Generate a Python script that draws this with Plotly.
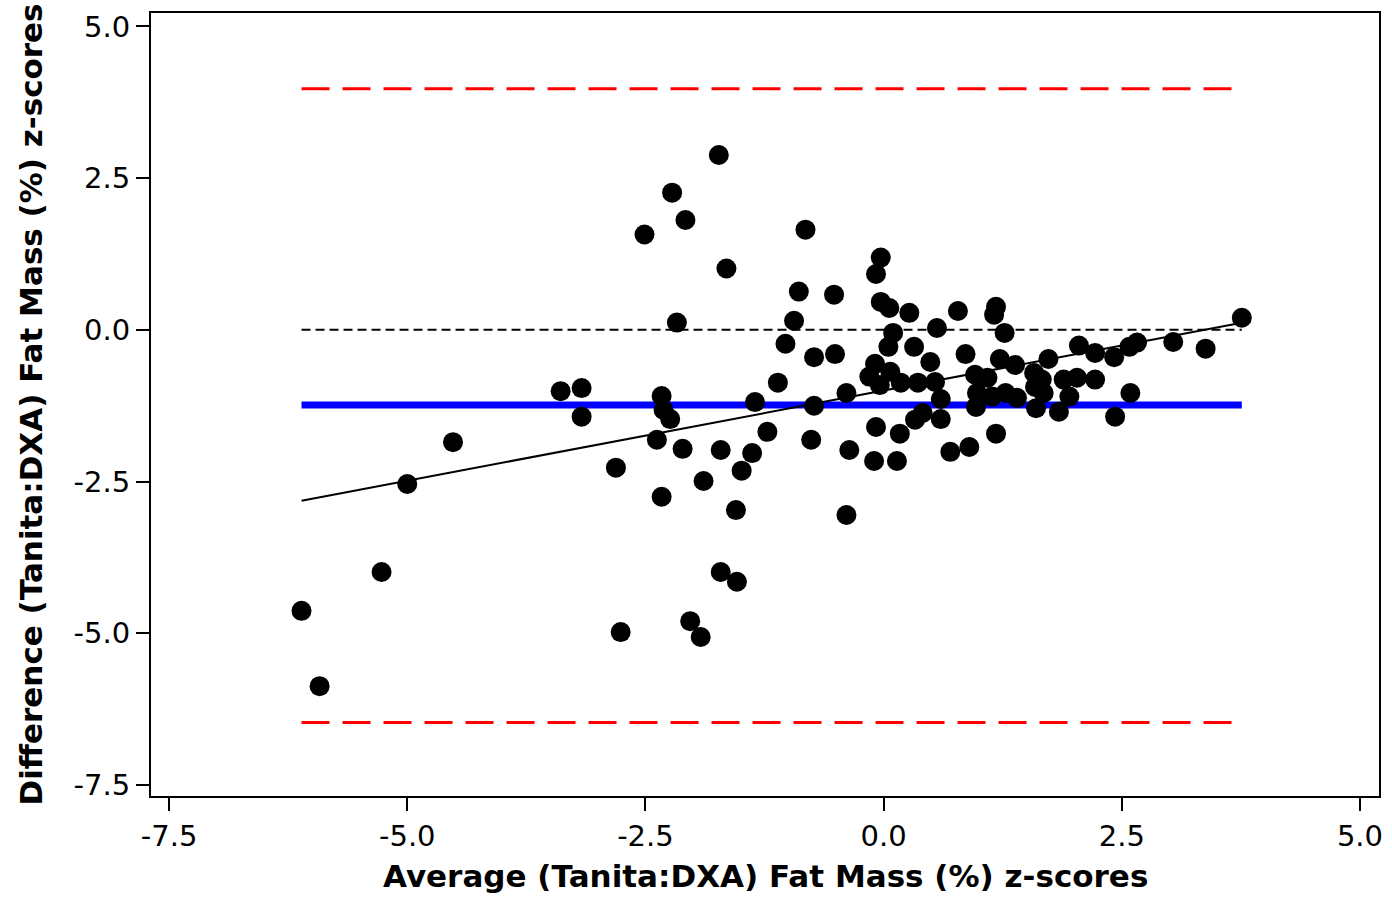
import plotly.graph_objects as go

# Bland-Altman data: mean of the two methods (x) vs. difference (y), z-scores
avg_z = [
    -6.11, -5.92, -5.27, -5.00, -4.52, -3.39, -3.17, -3.17, -2.81, -2.76,
    -2.51, -2.38, -2.33, -2.33, -2.31, -2.24, -2.22, -2.17, -2.08, -2.11,
    -2.03, -1.92, -1.89, -1.73, -1.71, -1.71, -1.65, -1.55, -1.54, -1.49,
    -1.38, -1.35, -1.22, -1.11, -1.03, -0.94, -0.89, -0.82, -0.76, -0.73,
    -0.73, -0.52, -0.51, -0.39, -0.39, -0.36,
    -0.03, -0.08, -0.03, 0.06, 0.27, 0.78, 0.56, 0.10, 0.05, 0.32,
    0.49, -0.09, 0.07, -0.15, -0.04, 0.18, 0.36, 0.54, 0.60, 0.41,
    0.33, 0.60, -0.08, 0.17, -0.10, 0.14, 0.70, 0.90, 0.86, 0.96,
    1.09, 0.98, 1.14, 0.97,
    1.18, 1.16, 1.27, 1.22, 1.38, 1.73, 2.05, 2.22, 2.42, 2.58,
    2.66, 3.04, 3.38, 3.76, 1.28, 1.40, 1.58, 1.66, 1.59, 1.68,
    1.60, 1.84, 1.89, 2.03, 2.22, 1.95, 2.59, 2.43, 1.18,
]
diff_z = [
    -4.63, -5.87, -3.99, -2.54, -1.85, -1.01, -0.96, -1.43, -2.27, -4.98,
    1.57, -1.81, -1.09, -2.75, -1.32, -1.47, 2.26, 0.12, 1.81, -1.96,
    -4.80, -5.06, -2.49, 2.88, -1.98, -3.99, 1.01, -2.97, -4.15, -2.32,
    -2.03, -1.19, -1.68, -0.87, -0.23, 0.15, 0.63, 1.65, -1.81, -1.25,
    -0.45, 0.58, -0.40, -1.04, -3.05, -1.98,
    1.19, 0.92, 0.46, 0.36, 0.28, 0.31, 0.03, -0.05, -0.28, -0.28,
    -0.53, -0.56, -0.69, -0.77, -0.91, -0.87, -0.87, -0.86, -1.14, -1.37,
    -1.48, -1.47, -1.60, -1.71, -2.16, -2.16, -2.01, -1.93, -0.40, -0.74,
    -0.79, -1.04, -1.10, -1.27,
    0.38, 0.25, -0.05, -0.48, -0.58, -0.48, -0.26, -0.38, -0.45, -0.28,
    -0.21, -0.20, -0.31, 0.20, -1.04, -1.12, -0.71, -0.82, -0.94, -1.04,
    -1.29, -1.35, -0.82, -0.79, -0.82, -1.10, -1.04, -1.43, -1.71,
]

# Summary statistics
mean_diff = -1.24
upper_loa = 3.97
lower_loa = -6.47
reg_intercept = -1.00
reg_slope = 0.297

tick_vals = [-7.5, -5.0, -2.5, 0.0, 2.5, 5.0]
tick_text = ["-7.5", "-5.0", "-2.5", "0.0", "2.5", "5.0"]

x_title = "Average (Tanita:DXA) Fat Mass (%) z-scores"
y_title = "Difference (Tanita:DXA) Fat Mass (%) z-scores"

x_min, x_max = min(avg_z), max(avg_z)

fig = go.Figure()

# Limits of agreement
for level in (upper_loa, lower_loa):
    fig.add_trace(go.Scatter(
        x=[x_min, x_max], y=[level, level], mode="lines",
        line=dict(color="#ff0000", width=3, dash="28px,13px"),
        hoverinfo="skip", showlegend=False,
    ))

# Zero reference
fig.add_trace(go.Scatter(
    x=[x_min, x_max], y=[0, 0], mode="lines",
    line=dict(color="black", width=2, dash="9px,5px"),
    hoverinfo="skip", showlegend=False,
))

# Mean difference (bias)
fig.add_trace(go.Scatter(
    x=[x_min, x_max], y=[mean_diff, mean_diff], mode="lines",
    line=dict(color="#0000ff", width=7),
    hoverinfo="skip", showlegend=False,
))

# Regression of difference on average
fig.add_trace(go.Scatter(
    x=[x_min, x_max],
    y=[reg_intercept + reg_slope * x_min, reg_intercept + reg_slope * x_max],
    mode="lines", line=dict(color="black", width=2),
    hoverinfo="skip", showlegend=False,
))

# Individual subjects
fig.add_trace(go.Scatter(
    x=avg_z, y=diff_z, mode="markers",
    marker=dict(color="black", size=20, line=dict(width=0)),
    showlegend=False,
))

axis_common = dict(
    showgrid=False, zeroline=False,
    showline=True, linecolor="black", linewidth=2, mirror=True,
    ticks="outside", ticklen=13, tickwidth=2, tickcolor="black",
    tickvals=tick_vals, ticktext=tick_text,
    tickfont=dict(family="DejaVu Sans", size=29, color="black"),
)

title_font = dict(family="DejaVu Sans", size=31, color="black")

fig.update_layout(
    width=1392, height=897,
    margin=dict(l=151, r=9, t=13, b=101),
    paper_bgcolor="white", plot_bgcolor="white",
    xaxis=dict(range=[-7.69, 5.20], **axis_common),
    yaxis=dict(range=[-7.68, 5.22], **axis_common),
    annotations=[
        dict(text=f"<b>{x_title}</b>", xref="paper", yref="paper",
             x=0.5, y=0, xanchor="center", yanchor="middle", yshift=-80,
             showarrow=False, font=title_font),
        dict(text=f"<b>{y_title}</b>", xref="paper", yref="paper",
             x=0, y=0.5, xanchor="center", yanchor="middle", xshift=-121,
             textangle=-90, showarrow=False, font=title_font),
    ],
)

fig.write_html("out.html")
